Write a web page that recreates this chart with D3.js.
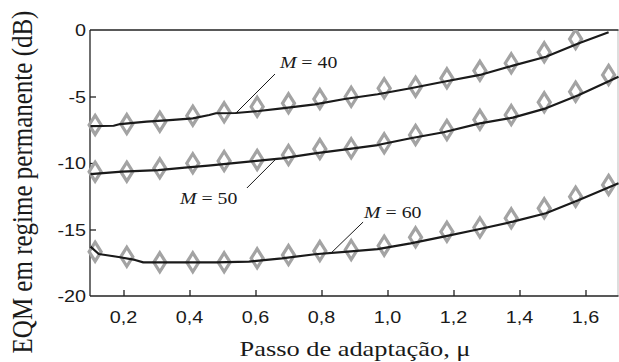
<!DOCTYPE html>
<html>
<head>
<meta charset="utf-8">
<script src="https://cdn.jsdelivr.net/npm/d3@7"></script>
<style>
  html, body { margin: 0; padding: 0; background: #fff; }
  svg { display: block; }
  .sans { font-family: 'Liberation Sans', Arial, sans-serif; }
  .serif { font-family: 'Liberation Serif', 'Times New Roman', serif; }
</style>
</head>
<body>
<svg id="chart" width="619" height="362"></svg>
<script>
// ---------- data ----------
const xTicks = [0.2, 0.4, 0.6, 0.8, 1.0, 1.2, 1.4, 1.6];
const xTickLabels = ["0,2", "0,4", "0,6", "0,8", "1,0", "1,2", "1,4", "1,6"];
const yTicks = [0, -5, -10, -15, -20];
const yTickLabels = ["0", "-5", "-10", "-15", "-20"];

// theoretical points (diamonds)
const markerMu = [0.114, 0.21, 0.31, 0.41, 0.505, 0.605, 0.70, 0.795, 0.89, 0.99, 1.085, 1.18, 1.28, 1.375, 1.475, 1.57, 1.67];
const marker40 = [-7.14, -7.07, -6.89, -6.44, -6.19, -5.77, -5.51, -5.19, -5.02, -4.38, -4.26, -3.63, -3.07, -2.50, -1.68, -0.68, null];
const marker50 = [-10.65, -10.65, -10.40, -10.02, -9.85, -9.77, -9.40, -8.95, -8.89, -8.52, -7.89, -7.52, -6.75, -6.39, -5.44, -4.64, -3.38];
const marker60 = [-16.67, -17.05, -17.47, -17.47, -17.47, -17.17, -16.92, -16.62, -16.54, -16.22, -15.59, -15.17, -14.85, -14.16, -13.41, -12.53, -11.65];

// simulated curves (black lines)
const lineMu40 = [0.10, 0.17, 0.19, 0.27, 0.34, 0.41, 0.46, 0.48, 0.54, 0.61, 0.68, 0.78, 0.87, 0.97, 1.07, 1.17, 1.28, 1.38, 1.48, 1.58, 1.67];
const line40   = [-7.22, -7.20, -7.07, -6.89, -6.77, -6.64, -6.39, -6.26, -6.24, -6.09, -5.89, -5.59, -5.19, -4.83, -4.38, -3.89, -3.38, -2.68, -2.01, -1.00, -0.17];
const lineMu50 = [0.10, 0.195, 0.305, 0.386, 0.457, 0.58, 0.68, 0.78, 0.88, 0.97, 1.07, 1.17, 1.28, 1.38, 1.48, 1.58, 1.70];
const line50   = [-10.83, -10.65, -10.53, -10.35, -10.20, -9.90, -9.65, -9.27, -8.95, -8.65, -8.14, -7.69, -7.02, -6.59, -5.89, -4.89, -3.51];
const lineMu60 = [0.10, 0.125, 0.185, 0.235, 0.26, 0.48, 0.58, 0.68, 0.78, 0.88, 0.97, 1.07, 1.17, 1.28, 1.38, 1.48, 1.58, 1.70];
const line60   = [-16.29, -16.84, -17.07, -17.29, -17.47, -17.47, -17.42, -17.17, -16.86, -16.67, -16.47, -16.04, -15.54, -14.96, -14.41, -13.78, -12.78, -11.53];

// annotations: label position and leader line (in data units)
const annLabels = ["40", "50", "60"];
const annTextMu = [0.674, 0.371, 0.929];
const annTextDb = [-2.857, -13.08, -14.11];
const annLeadFromMu = [0.659, 0.574, 0.926];
const annLeadFromDb = [-3.31, -11.88, -14.44];
const annLeadToMu = [0.541, 0.659, 0.829];
const annLeadToDb = [-6.24, -9.77, -16.77];

const xTitle = "Passo de adaptação, μ";
const yTitle = "EQM em regime permanente (dB)";

// ---------- drawing ----------
const svg = d3.select("#chart");
const SX = 1.2; // horizontal stretch of lettering in the reference

const x = d3.scaleLinear().domain([0.1, 1.7]).range([90.5, 618.5]);
const y = d3.scaleLinear().domain([-20, 0]).range([296, 30]);

const [x0, x1] = x.range();
const [yb, yt] = y.range();

// frame
svg.append("line").attr("x1", x1 - 0.5).attr("x2", x1 - 0.5).attr("y1", yt).attr("y2", yb)
  .attr("stroke", "#c8c8c8").attr("stroke-width", 1.2);
svg.append("line").attr("x1", x0 - 0.5).attr("x2", x1).attr("y1", yt).attr("y2", yt)
  .attr("stroke", "#222").attr("stroke-width", 1.3);
svg.append("line").attr("x1", x0 - 0.5).attr("x2", x1).attr("y1", yb).attr("y2", yb)
  .attr("stroke", "#222").attr("stroke-width", 1.3);
svg.append("line").attr("x1", x0 - 0.5).attr("x2", x0 - 0.5).attr("y1", yt).attr("y2", yb)
  .attr("stroke", "#222").attr("stroke-width", 1.3);

// ticks (inward) via d3 axes
const xAxis = d3.axisBottom(x).tickValues(xTicks).tickSize(-6).tickFormat("");
const gx = svg.append("g").attr("transform", `translate(0,${yb})`).call(xAxis);
gx.select(".domain").remove();
gx.selectAll(".tick line").attr("stroke", "#222").attr("stroke-width", 1.3);

const yAxis = d3.axisLeft(y).tickValues([-5, -10, -15]).tickSize(-6).tickFormat("");
const gy = svg.append("g").attr("transform", `translate(${x0 - 0.5},0)`).call(yAxis);
gy.select(".domain").remove();
gy.selectAll(".tick line").attr("stroke", "#222").attr("stroke-width", 1.3);

function stretchedText(tx, ty, str, cls, size, anchor) {
  return svg.append("text")
    .attr("class", cls)
    .attr("transform", `translate(${tx},${ty}) scale(${SX},1)`)
    .style("font-size", size + "px")
    .attr("text-anchor", anchor || "start")
    .attr("fill", "#1a1a1a")
    .text(str);
}

// tick labels
xTicks.forEach((v, i) => stretchedText(x(v), 323, xTickLabels[i], "sans", 16.5, "middle"));
yTicks.forEach((v, i) => stretchedText(86, y(v) + 6, yTickLabels[i], "sans", 16.5, "end"));

// axis titles
stretchedText(355, 356, xTitle, "serif", 22, "middle");
svg.append("text")
  .attr("class", "serif")
  .attr("transform", `translate(32,182) rotate(-90) scale(1,${SX})`)
  .style("font-size", "25px")
  .attr("text-anchor", "middle")
  .attr("fill", "#1a1a1a")
  .text(yTitle);

// markers (diamonds)
const diamond = "M0,-9.5 L6,0 L0,9.5 L-6,0 Z";
svg.append("clipPath").attr("id", "plotclip")
  .append("rect").attr("x", x0 - 12).attr("y", yt).attr("width", x1 - x0 + 12).attr("height", yb - yt + 12);

const markerSets = [marker40, marker50, marker60];
const mg = svg.append("g").attr("clip-path", "url(#plotclip)");
markerSets.forEach(vals => {
  const pts = markerMu.map((m, i) => [m, vals[i]]).filter(p => p[1] !== null);
  mg.selectAll(null).data(pts).enter().append("path")
    .attr("d", diamond)
    .attr("transform", d => `translate(${x(d[0])},${y(d[1])})`)
    .attr("fill", "none")
    .attr("stroke", "#a3a3a3")
    .attr("stroke-width", 3.2)
    .attr("stroke-linejoin", "miter");
});

// lines
const lineGen = d3.line().x(d => x(d[0])).y(d => y(d[1]));
const lineSets = [[lineMu40, line40], [lineMu50, line50], [lineMu60, line60]];
lineSets.forEach(([mus, vals]) => {
  svg.append("path")
    .datum(mus.map((m, i) => [m, vals[i]]))
    .attr("d", lineGen)
    .attr("fill", "none")
    .attr("stroke", "#1a1a1a")
    .attr("stroke-width", 2.2)
    .attr("stroke-linejoin", "round");
});

// annotations
annLabels.forEach((lab, i) => {
  svg.append("line")
    .attr("x1", x(annLeadFromMu[i])).attr("y1", y(annLeadFromDb[i]))
    .attr("x2", x(annLeadToMu[i])).attr("y2", y(annLeadToDb[i]))
    .attr("stroke", "#1a1a1a").attr("stroke-width", 1);
  const t = svg.append("text")
    .attr("class", "serif")
    .attr("transform", `translate(${x(annTextMu[i])},${y(annTextDb[i])}) scale(${SX},1)`)
    .style("font-size", "16.5px")
    .attr("fill", "#1a1a1a");
  t.append("tspan").attr("font-style", "italic").text("M");
  t.append("tspan").text(" = " + lab);
});
</script>
</body>
</html>
